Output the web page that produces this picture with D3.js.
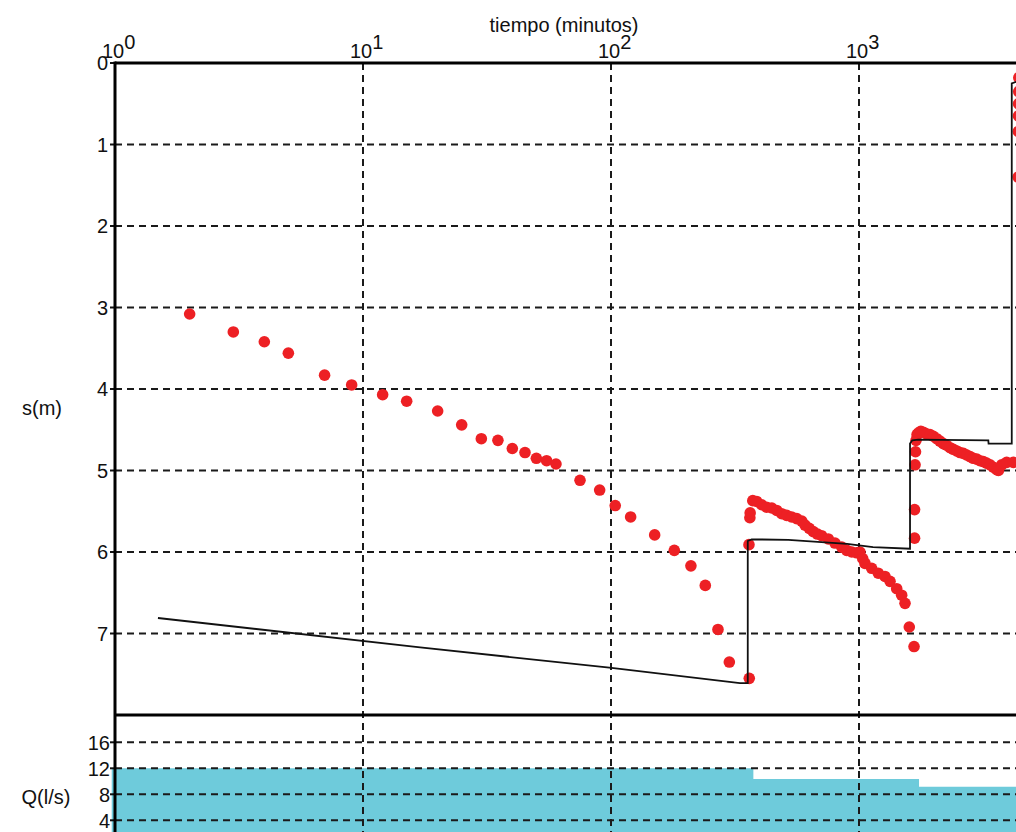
<!DOCTYPE html>
<html><head><meta charset="utf-8">
<script src="https://cdn.jsdelivr.net/npm/d3@7"></script>
<style>
body{margin:0;background:#fff;}
svg{display:block;}
text{font-family:"Liberation Sans",Arial,sans-serif;fill:#111;}
</style>
</head><body>
<svg id="c" width="1016" height="832"></svg>
<script>
// ---- data ----
const obsT = [2,3,4,5,7,9,12,15,20,25,30,35,40,45,50,55,60,75,90,104,120,150,180,210,240,270,300,361,
  360,363,364,373,387,405,424,445,466,488,511,535,561,588,606,630,654,680,707,752,800,852,892,935,979,1009,1035,1057,1125,1196,1273,1334,1419,1486,1533,1595,1667,
  1675,1675,1683,1690,1698,1714,1734,1775,1816,1870,1933,1995,2057,2120,2188,2255,2328,2400,2477,2555,2634,2718,2803,2890,2983,3075,3171,3270,3376,3480,3592,3650,3761,3940,4190,
  4380,4390,4395,4400,4405,4410];
const obsS = [3.08,3.30,3.42,3.56,3.83,3.95,4.07,4.15,4.27,4.44,4.61,4.63,4.73,4.78,4.85,4.88,4.92,5.12,5.24,5.43,5.57,5.79,5.98,6.17,6.41,6.95,7.35,7.55,
  5.91,5.58,5.52,5.37,5.38,5.42,5.45,5.46,5.49,5.53,5.55,5.57,5.59,5.62,5.67,5.71,5.75,5.78,5.80,5.84,5.89,5.94,5.98,6.00,6.01,6.00,6.08,6.14,6.20,6.26,6.30,6.36,6.45,6.53,6.63,6.92,7.16,
  5.83,5.48,4.93,4.77,4.63,4.56,4.54,4.52,4.53,4.55,4.56,4.58,4.61,4.64,4.67,4.69,4.72,4.74,4.76,4.78,4.79,4.81,4.83,4.85,4.86,4.88,4.89,4.91,4.93,4.96,4.99,5.00,4.93,4.90,4.90,
  1.40,0.84,0.65,0.50,0.35,0.18];
const modelT = [1.49,17,98.5,331,356,356,369,519,895,1139,1606,1606,1640,1734,3322,3330,4130,4130,4600];
const modelS = [6.81,7.17,7.42,7.61,7.61,5.865,5.845,5.85,5.90,5.94,5.96,4.67,4.63,4.62,4.63,4.67,4.67,0.25,0.2];
const qT = [0.97,375,1746,20000];
const qV = [12,10.35,9.17,9.17];
const xTickVals = [1,10,100,1000];
const xTickExp = ["0","1","2","3"];
const sTicks = [0,1,2,3,4,5,6,7];
const qTicks = [4,8,12,16];
const xTitle = "tiempo (minutos)";
const sTitle = "s(m)";
const qTitle = "Q(l/s)";

// ---- layout ----
const svg = d3.select("#c");
const W = 1016, H = 832;
const L = 115, T = 63, B = 715;
const x = d3.scaleLog().domain([1,10000]).range([L, L + 4*248]);
const y = d3.scaleLinear().domain([0,8]).range([T, B]);
const yq = d3.scaleLinear().domain([0,20]).range([846.3, 716.3]);

svg.append("rect").attr("width",W).attr("height",H).attr("fill","#fff");

// Q fill
const qData = qT.map((t,i)=>({t, v:qV[i]}));
svg.append("path").datum(qData)
  .attr("d", d3.area().curve(d3.curveStepAfter).x(d=>x(d.t)).y0(yq(0)).y1(d=>yq(d.v)))
  .attr("fill","#6ECBDB");

// grid
const gdash = "7,5";
const grid = svg.append("g").attr("stroke","#1a1a1a").attr("stroke-width",2).attr("stroke-dasharray",gdash).attr("fill","none");
sTicks.filter(v=>v>0).forEach(v=>{
  grid.append("line").attr("x1",L).attr("x2",W).attr("y1",y(v)).attr("y2",y(v));
});
qTicks.forEach(v=>{
  grid.append("line").attr("x1",L).attr("x2",W).attr("y1",yq(v)).attr("y2",yq(v));
});
xTickVals.filter(v=>v>1).forEach(v=>{
  grid.append("line").attr("x1",x(v)).attr("x2",x(v)).attr("y1",T).attr("y2",H);
});
// ticks on left
const tk = svg.append("g").attr("stroke","#111").attr("stroke-width",2);
sTicks.forEach(v=>tk.append("line").attr("x1",L-5).attr("x2",L).attr("y1",y(v)).attr("y2",y(v)));
qTicks.forEach(v=>tk.append("line").attr("x1",L-5).attr("x2",L).attr("y1",yq(v)).attr("y2",yq(v)));

// observed points
const obs = obsT.map((t,i)=>({t, s:obsS[i]}));
svg.append("g").selectAll("circle").data(obs).join("circle")
  .attr("cx",d=>x(d.t)).attr("cy",d=>y(d.s)).attr("r",5.8).attr("fill","#ED2024");

// model line
const model = modelT.map((t,i)=>({t, s:modelS[i]}));
svg.append("path").datum(model)
  .attr("d", d3.line().x(d=>x(d.t)).y(d=>y(d.s)))
  .attr("fill","none").attr("stroke","#111").attr("stroke-width",1.8);

// borders
const bd = svg.append("g").attr("stroke","#000").attr("stroke-width",3).attr("fill","none");
bd.append("line").attr("x1",L).attr("x2",W).attr("y1",T).attr("y2",T);
bd.append("line").attr("x1",L).attr("x2",W).attr("y1",B).attr("y2",B);
bd.append("line").attr("x1",L).attr("x2",L).attr("y1",T-1.5).attr("y2",H);

// labels
const fs = 20;
sTicks.forEach(v=>{
  svg.append("text").attr("x",108).attr("y",y(v)).attr("dy","0.36em")
    .attr("text-anchor","end").attr("font-size",fs).text(v);
});
qTicks.forEach(v=>{
  svg.append("text").attr("x",110).attr("y",yq(v)).attr("dy","0.36em")
    .attr("text-anchor","end").attr("font-size",fs).text(v);
});
xTickVals.forEach((v,i)=>{
  const t = svg.append("text").attr("x",x(v)-13).attr("y",58).attr("font-size",fs);
  t.append("tspan").text("10");
  t.append("tspan").attr("dy",-9).text(xTickExp[i]);
});
svg.append("text").attr("x",564).attr("y",32).attr("text-anchor","middle").attr("font-size",fs).text(xTitle);
svg.append("text").attr("x",42).attr("y",408).attr("dy","0.36em").attr("text-anchor","middle").attr("font-size",fs).text(sTitle);
svg.append("text").attr("x",46).attr("y",797).attr("dy","0.36em").attr("text-anchor","middle").attr("font-size",fs).text(qTitle);
</script>
</body></html>
